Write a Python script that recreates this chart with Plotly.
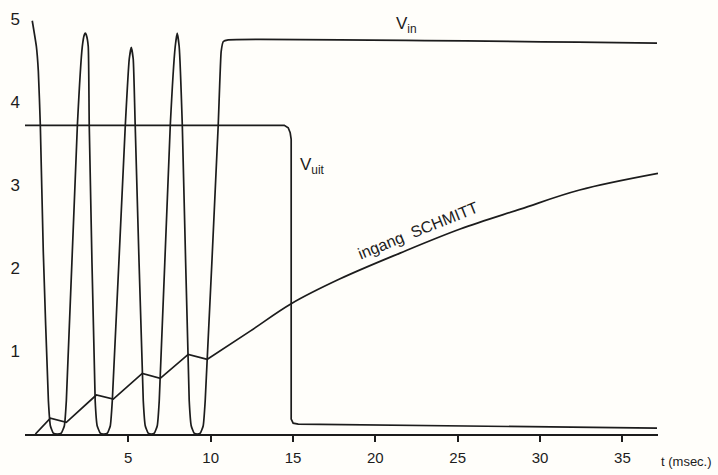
import plotly.graph_objects as go

# ---- data ----
vin_t = [-0.83, -0.58, -0.46, -0.34, -0.16, 0.15, 0.27, 0.45, 0.69, 0.93, 1.12, 1.24,
         1.91, 2.21, 2.33, 2.39, 2.45, 2.57, 2.63, 2.99, 3.11, 3.30, 3.48, 3.73, 3.91, 4.03,
         4.82, 5.06, 5.18, 5.30, 5.42, 5.91, 6.03, 6.21, 6.40, 6.58, 6.76, 6.88,
         7.55, 7.85, 7.97, 8.09, 8.28, 8.70, 8.82, 9.00, 9.19, 9.37, 9.55, 9.67,
         10.46, 10.64, 10.77, 11.07, 37.10]
vin_v = [4.98, 4.67, 4.37, 3.72, 2.20, 0.40, 0.10, 0.01, 0.00, 0.01, 0.10, 0.40,
         3.72, 4.67, 4.81, 4.83, 4.81, 4.67, 3.72, 0.40, 0.10, 0.01, 0.00, 0.01, 0.10, 0.40,
         3.72, 4.52, 4.66, 4.52, 3.72, 0.40, 0.10, 0.01, 0.00, 0.01, 0.10, 0.40,
         3.72, 4.67, 4.83, 4.67, 3.72, 0.40, 0.10, 0.01, 0.00, 0.01, 0.10, 0.40,
         3.72, 4.61, 4.73, 4.75, 4.71]

vuit_t = [-1.27, 14.47, 14.71, 14.83, 14.89, 14.89, 15.01, 15.32, 37.10]
vuit_v = [3.72, 3.72, 3.69, 3.63, 3.55, 0.18, 0.13, 0.12, 0.07]

# sawtooth part (charging/discharging steps) and the smooth charging curve
schmitt_t = [-0.64, 0.27, 1.24, 3.06, 4.09, 5.85, 6.94, 8.64, 9.80,
             12.4, 14.89, 17.86, 21.5, 25.15, 28.8, 32.4, 37.16]
schmitt_v = [0.00, 0.19, 0.14, 0.47, 0.42, 0.73, 0.67, 0.96, 0.90,
             1.24, 1.57, 1.87, 2.18, 2.47, 2.71, 2.94, 3.14]
SAW_END = 9  # number of points in the sawtooth part

x_ticks = [5, 10, 15, 20, 25, 30, 35]
y_ticks = [1, 2, 3, 4, 5]

INK = "#1c1c1c"
FONT = "Liberation Sans"
line = dict(color=INK, width=1.7)

fig = go.Figure()
fig.add_trace(go.Scatter(x=vin_t, y=vin_v, mode="lines",
                         line=dict(line, shape="spline", smoothing=0.4)))
fig.add_trace(go.Scatter(x=vuit_t, y=vuit_v, mode="lines", line=line))
fig.add_trace(go.Scatter(x=schmitt_t[:SAW_END], y=schmitt_v[:SAW_END], mode="lines", line=line))
fig.add_trace(go.Scatter(x=schmitt_t[SAW_END - 1:], y=schmitt_v[SAW_END - 1:], mode="lines",
                         line=dict(line, shape="spline", smoothing=1.0)))

fig.update_layout(
    width=718, height=475,
    margin=dict(l=25, r=60, t=0, b=41, autoexpand=False),
    paper_bgcolor="#fffefa", plot_bgcolor="#fffefa",
    showlegend=False,
    font=dict(family=FONT, color=INK),
    xaxis=dict(range=[-1.27, 37.16], showgrid=False, zeroline=False,
               showline=True, linecolor=INK, linewidth=1.5,
               ticks="outside", ticklen=6, tickwidth=1.5, tickcolor=INK,
               tickvals=x_ticks, ticktext=[str(v) for v in x_ticks],
               tickfont=dict(family=FONT, size=15, color=INK), ticklabelstandoff=3),
    yaxis=dict(range=[0, 5.23], showgrid=False, zeroline=False, showline=False,
               ticks="", tickvals=y_ticks, ticktext=[str(v) for v in y_ticks],
               tickfont=dict(family=FONT, size=17, color=INK), ticklabelstandoff=4),
)

fig.add_annotation(x=1, xref="paper", y=-0.063, yref="paper", xanchor="left", yanchor="middle",
                   text="t (msec.)", showarrow=False, font=dict(family=FONT, size=13, color=INK),
                   xshift=1)
fig.add_annotation(x=21.9, y=4.93, text="V<sub>in</sub>", showarrow=False,
                   font=dict(family=FONT, size=17, color=INK))
fig.add_annotation(x=16.2, y=3.23, text="V<sub>uit</sub>", showarrow=False,
                   font=dict(family=FONT, size=17, color=INK))
fig.add_annotation(x=22.6, y=2.45, text="ingang  SCHMITT", showarrow=False, textangle=-22,
                   font=dict(family=FONT, size=16, color=INK))

fig.write_html("out.html", config={"displayModeBar": False},
               post_script="document.body.style.margin='0';document.body.style.background='#fffefa';")
